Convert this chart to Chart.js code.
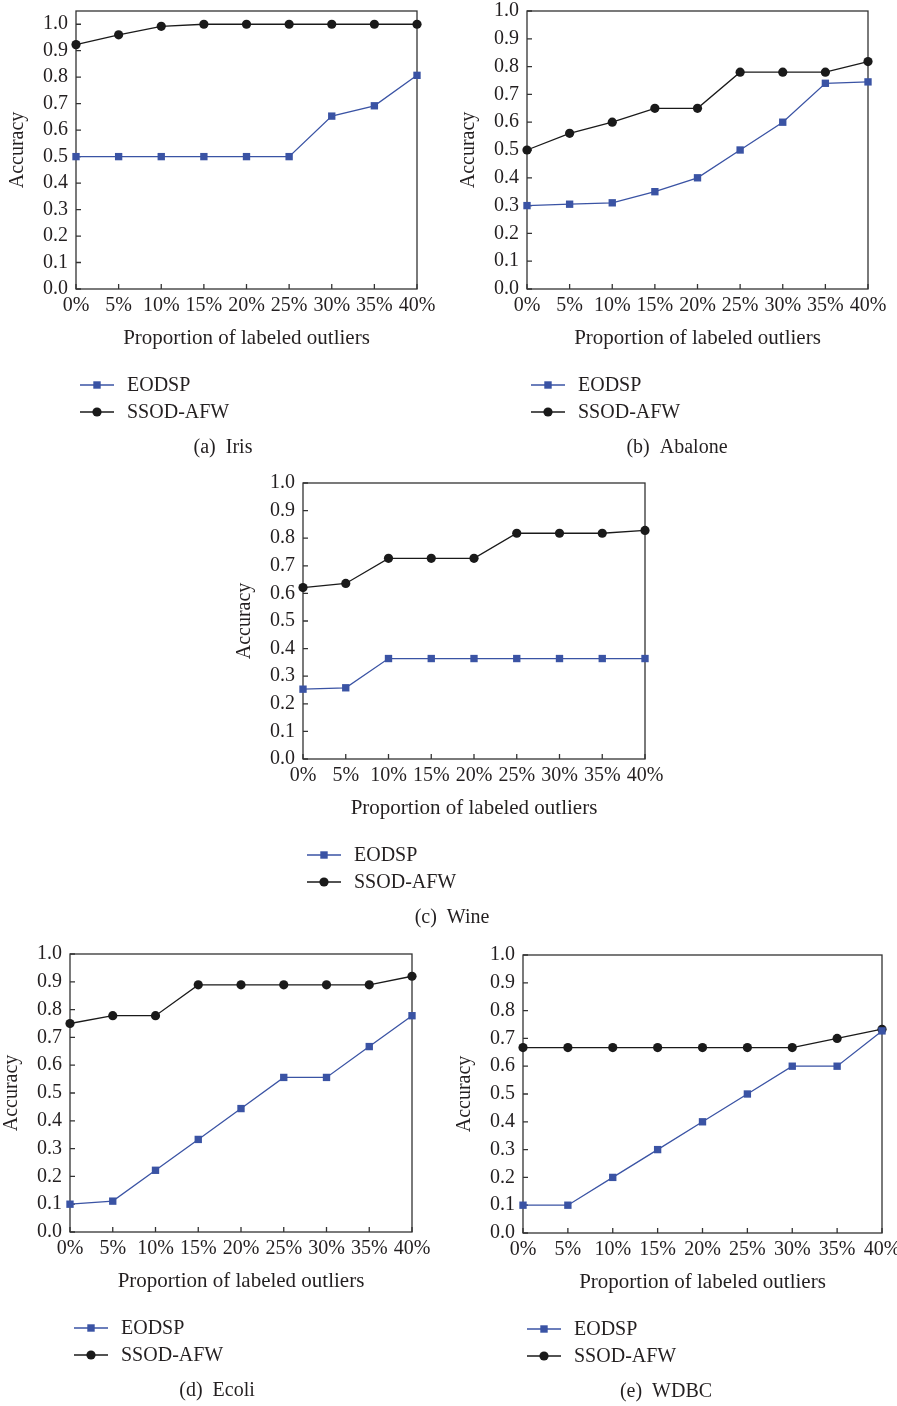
<!DOCTYPE html>
<html><head><meta charset="utf-8">
<script src="https://cdn.jsdelivr.net/npm/chart.js@4.4.1/dist/chart.umd.min.js"></script>
<style>
html,body{margin:0;padding:0;background:#fff;overflow:hidden;}
body{width:897px;height:1406px;position:relative;}
canvas{position:absolute;}
</style></head><body>
<canvas id="ca" width="450" height="470" style="left:0px;top:0px"></canvas>
<canvas id="cb" width="447" height="470" style="left:450px;top:0px"></canvas>
<canvas id="cc" width="440" height="470" style="left:230px;top:470px"></canvas>
<canvas id="cd" width="450" height="466" style="left:0px;top:940px"></canvas>
<canvas id="ce" width="447" height="466" style="left:450px;top:940px"></canvas>
<script>
// ---- data ----
const categories = ['0%','5%','10%','15%','20%','25%','30%','35%','40%'];
const seriesNames = ['EODSP','SSOD-AFW'];

const irisEODSP = [0.5,0.5,0.5,0.5,0.5,0.5,0.653,0.692,0.807];
const irisSSOD  = [0.923,0.96,0.992,1.0,1.0,1.0,1.0,1.0,1.0];

const abaloneEODSP = [0.30,0.305,0.31,0.35,0.40,0.50,0.60,0.74,0.745];
const abaloneSSOD  = [0.50,0.56,0.60,0.65,0.65,0.78,0.78,0.78,0.818];

const wineEODSP = [0.253,0.258,0.364,0.364,0.364,0.364,0.364,0.364,0.364];
const wineSSOD  = [0.621,0.636,0.727,0.727,0.727,0.818,0.818,0.818,0.828];

const ecoliEODSP = [0.10,0.111,0.222,0.333,0.444,0.556,0.556,0.667,0.778];
const ecoliSSOD  = [0.75,0.778,0.778,0.889,0.889,0.889,0.889,0.889,0.92];

const wdbcEODSP = [0.10,0.10,0.20,0.30,0.40,0.50,0.60,0.60,0.727];
const wdbcSSOD  = [0.667,0.667,0.667,0.667,0.667,0.667,0.667,0.70,0.733];

const yTickLabels = ['0.0','0.1','0.2','0.3','0.4','0.5','0.6','0.7','0.8','0.9','1.0'];
const captions = ['(a)  Iris','(b)  Abalone','(c)  Wine','(d)  Ecoli','(e)  WDBC'];
const yMaxes = [1.05,1.0,1.0,1.0,1.0];

// ---- style / layout ----
const FONT = "'Liberation Serif','Times New Roman',serif";
const TEXT = '#231f20';
const BLUE = '#3a53a4';
const BLACK = '#1a1a1a';

const panels = [
  {id:'ca', e:irisEODSP,    s:irisSSOD,    yW:76, pad:{top:11,right:33,bottom:119,left:0}, capX:223},
  {id:'cb', e:abaloneEODSP, s:abaloneSSOD, yW:77, pad:{top:11,right:29,bottom:119,left:0}, capX:227},
  {id:'cc', e:wineEODSP,    s:wineSSOD,    yW:73, pad:{top:13,right:25,bottom:119,left:0}, capX:222},
  {id:'cd', e:ecoliEODSP,   s:ecoliSSOD,   yW:70, pad:{top:14,right:38,bottom:112,left:0}, capX:217},
  {id:'ce', e:wdbcEODSP,    s:wdbcSSOD,    yW:73, pad:{top:15,right:15,bottom:111,left:0}, capX:216}
];

const frame = {
  id:'frame',
  beforeDatasetsDraw(chart){
    const {ctx, chartArea:a, scales:{x,y}} = chart;
    ctx.save();
    ctx.strokeStyle = '#333'; ctx.lineWidth = 1.3;
    ctx.strokeRect(a.left, a.top, a.right-a.left, a.bottom-a.top);
    ctx.beginPath();
    y.ticks.forEach(t => { const py = y.getPixelForValue(t.value); ctx.moveTo(a.left, py); ctx.lineTo(a.left+5, py); });
    x.ticks.forEach((t,i) => { const px = x.getPixelForTick(i); ctx.moveTo(px, a.bottom); ctx.lineTo(px, a.bottom-5); });
    ctx.stroke();
    ctx.restore();
  },
  afterDraw(chart, args, opts){
    const {ctx, chartArea:a} = chart;
    ctx.save();
    ctx.font = '20px ' + FONT;
    ctx.fillStyle = TEXT;
    ctx.textBaseline = 'middle';
    chart.data.datasets.forEach((ds,i) => {
      const yy = a.bottom + 96 + 27*i;
      ctx.strokeStyle = ds.borderColor; ctx.lineWidth = 1.3;
      ctx.beginPath(); ctx.moveTo(a.left+4, yy); ctx.lineTo(a.left+38, yy); ctx.stroke();
      ctx.fillStyle = ds.pointBackgroundColor;
      const mx = a.left + 21;
      if (ds.pointStyle === 'rect') { ctx.fillRect(mx-3.7, yy-3.7, 7.4, 7.4); }
      else { ctx.beginPath(); ctx.arc(mx, yy, 4.6, 0, Math.PI*2); ctx.fill(); }
      ctx.fillStyle = TEXT;
      ctx.textAlign = 'left';
      ctx.fillText(ds.label, a.left+51, yy+1);
    });
    ctx.textAlign = 'center';
    ctx.fillText(opts.caption, opts.capX, a.bottom + 159);
    ctx.restore();
  }
};

panels.forEach((p, idx) => {
  new Chart(document.getElementById(p.id), {
    type:'line',
    data:{
      labels:categories,
      datasets:[
        {label:seriesNames[0], data:p.e, borderColor:BLUE, backgroundColor:BLUE, pointBackgroundColor:BLUE,
         pointBorderColor:BLUE, pointStyle:'rect', pointRadius:5.2, pointBorderWidth:0, borderWidth:1.3, clip:false, tension:0},
        {label:seriesNames[1], data:p.s, borderColor:BLACK, backgroundColor:BLACK, pointBackgroundColor:BLACK,
         pointBorderColor:BLACK, pointStyle:'circle', pointRadius:4.6, pointBorderWidth:0, borderWidth:1.3, clip:false, tension:0}
      ]
    },
    options:{
      responsive:false, animation:false, devicePixelRatio:1,
      layout:{padding:p.pad},
      plugins:{legend:{display:false}, tooltip:{enabled:false}, frame:{caption:captions[idx], capX:p.capX}},
      scales:{
        x:{
          type:'category', offset:false,
          grid:{display:false, drawTicks:false}, border:{display:false},
          ticks:{font:{family:FONT,size:20}, color:TEXT, padding:5, maxRotation:0, autoSkip:false},
          title:{display:true, text:'Proportion of labeled outliers', font:{family:FONT,size:21}, color:TEXT, padding:{top:0,bottom:0}},
          afterFit(s){ s.height = 62; s.paddingLeft = 0; s.paddingRight = 0; }
        },
        y:{
          min:0, max:yMaxes[idx],
          grid:{display:false, drawTicks:false}, border:{display:false},
          ticks:{stepSize:0.1, includeBounds:false, font:{family:FONT,size:20}, color:TEXT, padding:8,
                 callback:(v,i) => yTickLabels[i]},
          title:{display:true, text:'Accuracy', font:{family:FONT,size:20}, color:TEXT, padding:{top:p.yW-70,bottom:0}},
          afterFit(s){ s.width = p.yW; s.paddingTop = 0; s.paddingBottom = 0; }
        }
      }
    },
    plugins:[frame]
  });
});
</script>
</body></html>
